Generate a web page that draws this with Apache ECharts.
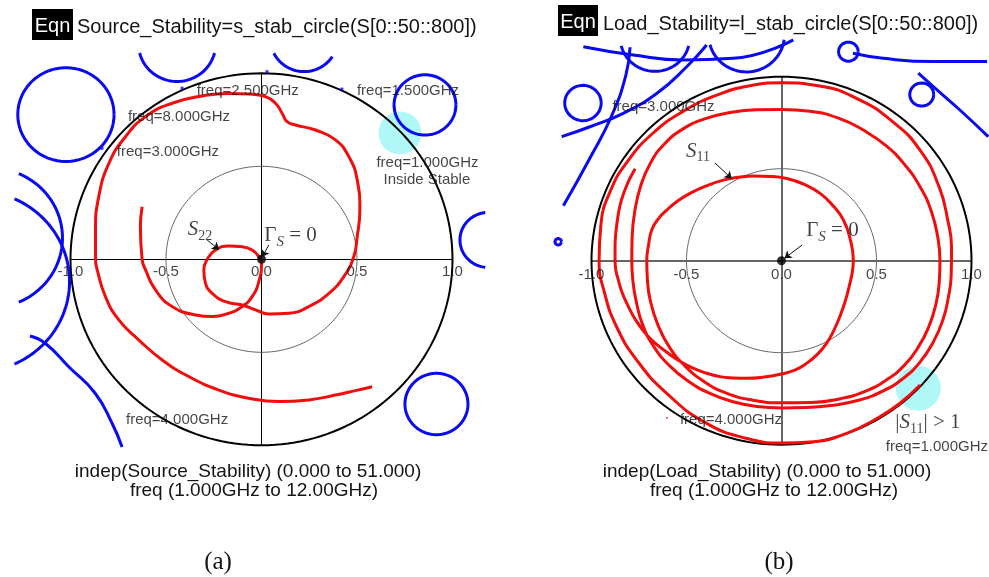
<!DOCTYPE html>
<html>
<head>
<meta charset="utf-8">
<script src="https://cdn.jsdelivr.net/npm/echarts@6/dist/echarts.min.js"></script>
<style>
  html, body { margin: 0; padding: 0; background: #ffffff; }
  #chart { width: 989px; height: 577px; }
</style>
</head>
<body>
<div id="chart"></div>
<script>
// ---- reflection-plane ticks and reference circles ----
const tickValues = [-1.0, -0.5, 0.0, 0.5, 1.0];
const tickLabels = ['-1.0', '-0.5', '0.0', '0.5', '1.0'];
const refRadii = [1.0, 0.5];

// ---- (a) S22 trace, 12 GHz end first ----
const s22Trace = [
  [-0.625, 0.283], [-0.634, 0.176], [-0.625, 0.0], [-0.607, -0.057], [-0.555, -0.165],
  [-0.468, -0.254], [-0.346, -0.299], [-0.258, -0.308], [-0.171, -0.290], [-0.101, -0.254],
  [-0.049, -0.201], [-0.014, -0.120], [0.0, -0.022], [-0.014, 0.014], [-0.049, 0.05],
  [-0.101, 0.068], [-0.171, 0.072], [-0.241, 0.05], [-0.284, 0.0], [-0.302, -0.057],
  [-0.293, -0.129], [-0.258, -0.183], [-0.188, -0.228], [-0.101, -0.246], [-0.031, -0.272],
  [0.038, -0.294], [0.143, -0.290], [0.248, -0.254], [0.353, -0.183], [0.431, -0.093],
  [0.483, 0.014], [0.501, 0.122], [0.515, 0.265], [0.501, 0.427], [0.457, 0.552],
  [0.387, 0.642], [0.283, 0.695], [0.178, 0.722], [0.134, 0.740], [0.108, 0.785],
  [0.073, 0.839], [0.021, 0.875], [-0.066, 0.889], [-0.171, 0.892], [-0.311, 0.878],
  [-0.468, 0.839], [-0.607, 0.767], [-0.712, 0.659], [-0.799, 0.516], [-0.852, 0.337],
  [-0.869, 0.158], [-0.869, 0.0], [-0.860, -0.057], [-0.817, -0.201], [-0.747, -0.326],
  [-0.642, -0.434], [-0.520, -0.541], [-0.380, -0.631], [-0.223, -0.703], [-0.066, -0.747],
  [0.091, -0.765], [0.248, -0.756], [0.387, -0.730], [0.492, -0.706], [0.579, -0.685]
];

// ---- (b) S11 trace, 1 GHz end first ----
const s11Trace = [
  [0.729, -0.676], [0.624, -0.775], [0.518, -0.848], [0.343, -0.938], [0.168, -0.984],
  [0.0, -0.991], [-0.183, -0.966], [-0.394, -0.884], [-0.604, -0.721], [-0.762, -0.54],
  [-0.868, -0.359], [-0.93, -0.18], [-0.96, 0.0], [-0.95, 0.2], [-0.9, 0.38],
  [-0.81, 0.54], [-0.68, 0.69], [-0.52, 0.81], [-0.34, 0.9], [-0.17, 0.95],
  [0.0, 0.967], [0.2, 0.95], [0.4, 0.88], [0.58, 0.76], [0.73, 0.6],
  [0.83, 0.4], [0.875, 0.22], [0.895, 0.07], [0.893, -0.08], [0.878, -0.2],
  [0.85, -0.32], [0.8, -0.44], [0.73, -0.55], [0.64, -0.64], [0.53, -0.71],
  [0.4, -0.76], [0.26, -0.787], [0.13, -0.798], [0.0, -0.80],
  [-0.13, -0.792], [-0.26, -0.765], [-0.38, -0.72], [-0.49, -0.655], [-0.59, -0.57],
  [-0.67, -0.47], [-0.73, -0.35], [-0.765, -0.22], [-0.783, -0.1], [-0.788, 0.0],
  [-0.786, 0.13], [-0.772, 0.27], [-0.74, 0.41], [-0.69, 0.53], [-0.62, 0.63],
  [-0.52, 0.715], [-0.4, 0.772], [-0.27, 0.805], [-0.13, 0.82], [0.0, 0.822],
  [0.15, 0.812], [0.3, 0.775], [0.43, 0.71], [0.55, 0.625], [0.65, 0.52],
  [0.73, 0.4], [0.788, 0.27], [0.822, 0.13], [0.834, 0.0],
  [0.83, -0.12], [0.812, -0.24], [0.775, -0.36], [0.72, -0.47], [0.645, -0.57],
  [0.55, -0.65], [0.44, -0.71], [0.31, -0.75], [0.16, -0.77], [0.0, -0.772],
  [-0.15, -0.758], [-0.29, -0.72], [-0.41, -0.655], [-0.51, -0.57], [-0.59, -0.47],
  [-0.65, -0.35], [-0.69, -0.22], [-0.706, -0.1], [-0.709, 0.0],
  [-0.699, 0.09], [-0.683, 0.167], [-0.65, 0.225], [-0.604, 0.275], [-0.55, 0.322],
  [-0.482, 0.366], [-0.4, 0.405], [-0.306, 0.438], [-0.226, 0.453], [-0.148, 0.46],
  [-0.06, 0.458], [0.027, 0.447], [0.12, 0.415], [0.203, 0.366], [0.27, 0.3],
  [0.326, 0.221], [0.362, 0.115], [0.378, 0.0],
  [0.372, -0.065], [0.36, -0.123], [0.337, -0.215], [0.307, -0.304], [0.275, -0.38],
  [0.237, -0.449], [0.19, -0.508], [0.132, -0.558], [0.07, -0.595], [0.0, -0.616],
  [-0.09, -0.632], [-0.183, -0.639], [-0.255, -0.637], [-0.324, -0.63], [-0.405, -0.608],
  [-0.482, -0.576], [-0.545, -0.54], [-0.6, -0.5], [-0.665, -0.448], [-0.72, -0.39],
  [-0.77, -0.318], [-0.81, -0.24], [-0.84, -0.17], [-0.86, -0.1], [-0.872, -0.05],
  [-0.876, 0.0], [-0.876, 0.075], [-0.872, 0.15], [-0.863, 0.225], [-0.85, 0.3],
  [-0.832, 0.362], [-0.81, 0.42], [-0.79, 0.463], [-0.77, 0.5]
];

// ---- stability circles: [centreX, centreY, radius, fromDeg, toDeg] ----
const sourceCircles = [
  [-1.024, 0.778, 0.252, 0, 360],
  [-0.442, 1.158, 0.202, 194, 346],
  [0.223, 1.185, 0.176, 206, 327],
  [0.856, 0.830, 0.162, 0, 360],
  [1.187, 0.104, 0.148, 96, 264],
  [0.916, -0.778, 0.165, 0, 360],
  [-1.417, 0.115, 0.375, -67, 67],
  [-1.491, -0.119, 0.486, -66, 66]
];
// large-radius circle portions, traced point by point
const sourceArcPaths = [
  [[-1.212, -0.412], [-1.134, -0.450], [-1.008, -0.579], [-0.872, -0.719], [-0.783, -0.880], [-0.730, -1.009]]
];
const loadCircles = [
  [-0.666, 1.212, 0.183, 194, 346],
  [-0.184, 1.225, 0.199, 195, 353],
  [-1.045, 0.857, 0.096, 0, 360],
  [-1.175, 0.103, 0.018, 0, 360],
  [0.352, 1.136, 0.052, 0, 360],
  [0.738, 0.903, 0.063, 0, 360]
];
const loadArcPaths = [
  [[-1.043, 1.163], [-0.780, 1.118], [-0.517, 1.091], [-0.254, 1.100], [0.062, 1.200]],
  [[-1.157, 0.674], [-1.008, 0.728], [-0.833, 0.801], [-0.657, 0.909], [-0.499, 1.054], [-0.394, 1.172]],
  [[-1.148, 0.298], [-1.008, 0.558], [-0.892, 0.792], [-0.819, 1.009], [-0.797, 1.160]],
  [[0.376, 1.127], [0.534, 1.100], [0.797, 1.082], [1.082, 1.082]],
  [[0.72, 1.019], [0.799, 0.946], [0.939, 0.819], [1.088, 0.674]]
];

// ---- frequency markers and notes ----
const sourceNotes = [
  ['freq=2.500GHz', -0.072, 0.906],
  ['freq=1.500GHz', 0.767, 0.906],
  ['freq=8.000GHz', -0.432, 0.767],
  ['freq=3.000GHz', -0.490, 0.578],
  ['freq=1.000GHz', 0.869, 0.519],
  ['Inside Stable', 0.866, 0.426],
  ['freq=4.000GHz', -0.442, -0.864]
];
const sourceMarkerPts = [[-0.416, 0.920], [0.421, 0.915], [-0.835, 0.597], [0.029, 1.009]];
const loadNotes = [
  ['freq=3.000GHz', -0.621, 0.837],
  ['freq=4.000GHz', -0.266, -0.866],
  ['freq=1.000GHz', 0.818, -1.014]
];
const sourceHighlight = [0.725, 0.679];
const loadHighlight = [0.72, -0.693];

// ---------------------------------------------------------------------
const SANS = '"Liberation Sans", Arial, sans-serif';
const SERIF = '"Liberation Serif", "Times New Roman", serif';
const RED = '#f00d0d';
const BLUE = '#0a0af0';

function arcPoints(cx, cy, r, a0, a1) {
  const pts = [];
  const n = Math.max(16, Math.ceil(Math.abs(a1 - a0) / 2));
  for (let i = 0; i <= n; i++) {
    const t = (a0 + (a1 - a0) * i / n) * Math.PI / 180;
    pts.push([cx + r * Math.cos(t), cy + r * Math.sin(t)]);
  }
  return pts;
}

function curve(idx, data, color, width, smooth, z) {
  return {
    type: 'line', xAxisIndex: idx, yAxisIndex: idx, data: data,
    showSymbol: false, symbol: 'none', smooth: smooth, clip: false, silent: true, z: z,
    lineStyle: { color: color, width: width }
  };
}

function textLayer(idx, items, fontSize) {
  return {
    type: 'scatter', xAxisIndex: idx, yAxisIndex: idx, symbolSize: 1, silent: true, z: 10,
    itemStyle: { color: 'rgba(0,0,0,0)' },
    data: items.map(d => ({ name: d[0], value: [d[1], d[2]] })),
    label: { show: true, position: 'inside', formatter: p => p.name, color: '#141414',
             fontSize: fontSize, fontFamily: SANS }
  };
}

const subRich = {
  i: { fontFamily: SERIF, fontStyle: 'italic', fontSize: 21, color: '#111', verticalAlign: 'top', lineHeight: 22 },
  g: { fontFamily: SERIF, fontSize: 21, color: '#111', verticalAlign: 'top', lineHeight: 22 },
  s: { fontFamily: SERIF, fontSize: 14, color: '#111', verticalAlign: 'top', padding: [10, 0, 0, 0] },
  si: { fontFamily: SERIF, fontStyle: 'italic', fontSize: 15, color: '#111', verticalAlign: 'top', padding: [9, 0, 0, 0] }
};

function richNote(idx, text, x, y) {
  return {
    type: 'scatter', xAxisIndex: idx, yAxisIndex: idx, symbolSize: 1, silent: true, z: 10,
    itemStyle: { color: 'rgba(0,0,0,0)' },
    data: [{ value: [x, y] }],
    label: { show: true, position: 'inside', formatter: text, rich: subRich }
  };
}

function buildPanel(idx, cfg) {
  const S = [];
  // highlighted region
  S.push({
    type: 'scatter', xAxisIndex: idx, yAxisIndex: idx, z: 1, silent: true,
    symbolSize: cfg.hiSize, itemStyle: { color: '#9cf5f5' }, data: [cfg.highlight]
  });
  // |Gamma| = 1 and 0.5 circles
  refRadii.forEach((r, i) => {
    S.push(curve(idx, arcPoints(0, 0, r, 0, 360), i === 0 ? '#000' : '#666', i === 0 ? 2 : 1, false, 4));
  });
  // real / imaginary axes
  S.push({
    type: 'lines', coordinateSystem: 'cartesian2d', xAxisIndex: idx, yAxisIndex: idx, z: 4, silent: true,
    data: [{ coords: [[-1, 0], [1, 0]] }, { coords: [[0, -1], [0, 1]] }],
    lineStyle: { color: cfg.axisColor, width: cfg.axisWidth, opacity: 1 }
  });
  // tick labels
  S.push({
    type: 'scatter', xAxisIndex: idx, yAxisIndex: idx, symbolSize: 1, silent: true, z: 9,
    itemStyle: { color: 'rgba(0,0,0,0)' },
    data: tickValues.map((v, i) => ({ name: tickLabels[i], value: [v, 0] })),
    label: { show: true, position: 'inside', offset: [0, cfg.tickOffset], formatter: p => p.name,
             color: '#141414', fontSize: 15, fontFamily: SANS }
  });
  // stability circles
  cfg.circles.forEach(c => S.push(curve(idx, arcPoints(c[0], c[1], c[2], c[3], c[4]), BLUE, 3, false, 5)));
  cfg.arcs.forEach(p => S.push(curve(idx, p, BLUE, 3, 0.5, 5)));
  // measured trace
  S.push(curve(idx, cfg.trace, RED, 3, 0.5, 6));
  // origin marker
  S.push({
    type: 'scatter', xAxisIndex: idx, yAxisIndex: idx, z: 8, silent: true,
    symbolSize: 9, itemStyle: { color: '#000' }, data: [[0, 0]]
  });
  // pointer arrows
  S.push({
    type: 'lines', coordinateSystem: 'cartesian2d', xAxisIndex: idx, yAxisIndex: idx, z: 8, silent: true,
    symbol: ['none', 'arrow'], symbolSize: 7,
    data: cfg.arrows.map(a => ({ coords: a })),
    lineStyle: { color: '#111', width: 1, opacity: 1 }
  });
  // frequency notes
  S.push(textLayer(idx, cfg.notes, 15));
  return S;
}

const series = []
  .concat(buildPanel(0, {
    highlight: sourceHighlight, hiSize: 43, axisColor: '#000', axisWidth: 1, tickOffset: 13,
    circles: sourceCircles, arcs: sourceArcPaths, trace: s22Trace,
    arrows: [[[-0.285, 0.104], [-0.222, 0.052]], [[0.038, 0.077], [0.004, 0.012]]],
    notes: sourceNotes
  }))
  .concat(buildPanel(1, {
    highlight: loadHighlight, hiSize: 45, axisColor: '#333', axisWidth: 1.5, tickOffset: 14,
    circles: loadCircles, arcs: loadArcPaths, trace: s11Trace,
    arrows: [[[-0.35, 0.531], [-0.262, 0.446]], [[0.108, 0.085], [0.016, 0.013]]],
    notes: loadNotes
  }));

// panel-specific annotations
series.push(richNote(0, '{i|S}{s|22}', -0.322, 0.150));
series.push(richNote(0, '{g|Γ}{si|S}{g| = 0}', 0.152, 0.118));
series.push(richNote(1, '{i|S}{s|11}', -0.439, 0.588));
series.push(richNote(1, '{g|Γ}{si|S}{g| = 0}', 0.268, 0.154));
series.push(richNote(1, '{g||}{i|S}{s|11}{g||}{g| > 1}', 0.771, -0.89));
series.push({
  type: 'scatter', xAxisIndex: 0, yAxisIndex: 0, z: 7, silent: true,
  symbol: 'rect', symbolSize: 3, itemStyle: { color: BLUE }, data: sourceMarkerPts
});
series.push({
  type: 'scatter', xAxisIndex: 1, yAxisIndex: 1, z: 7, silent: true,
  symbolSize: 2, itemStyle: { color: RED }, data: [[-0.603, -0.855]]
});

function caption(x, y, text, size, family, align, fill) {
  return {
    type: 'text', x: x, y: y, silent: true, z: 20,
    style: { text: text, fill: fill || '#141414', fontSize: size, fontFamily: family,
             align: align || 'center', verticalAlign: 'middle',
             textAlign: align || 'center', textVerticalAlign: 'middle' }
  };
}

const option = {
  animation: false,
  backgroundColor: '#ffffff',
  grid: [
    { left: 1.74, top: 17.5, width: 496.6, height: 465 },
    { left: 544, top: 21.5, width: 444.6, height: 460 }
  ],
  xAxis: [
    { type: 'value', gridIndex: 0, min: -1.36, max: 1.24, show: false },
    { type: 'value', gridIndex: 1, min: -1.25, max: 1.09, show: false }
  ],
  yAxis: [
    { type: 'value', gridIndex: 0, min: -1.2, max: 1.3, show: false },
    { type: 'value', gridIndex: 1, min: -1.2, max: 1.3, show: false }
  ],
  series: series,
  graphic: [
    { type: 'rect', z: 19, shape: { x: 32, y: 9, width: 41, height: 31 }, style: { fill: '#000' }, silent: true },
    caption(52.5, 26, 'Eqn', 20, SANS, 'center', '#ffffff'),
    caption(77, 27, 'Source_Stability=s_stab_circle(S[0::50::800])', 20, SANS, 'left'),
    { type: 'rect', z: 19, shape: { x: 558, y: 5, width: 40, height: 31 }, style: { fill: '#000' }, silent: true },
    caption(578, 22, 'Eqn', 20, SANS, 'center', '#ffffff'),
    caption(603, 24, 'Load_Stability=l_stab_circle(S[0::50::800])', 20, SANS, 'left'),
    caption(248, 472, 'indep(Source_Stability) (0.000 to 51.000)', 19, SANS),
    caption(254, 491, 'freq (1.000GHz to 12.00GHz)', 19, SANS),
    caption(767, 472, 'indep(Load_Stability) (0.000 to 51.000)', 19, SANS),
    caption(774, 491, 'freq (1.000GHz to 12.00GHz)', 19, SANS),
    caption(218, 562, '(a)', 25, SERIF),
    caption(779, 562, '(b)', 25, SERIF)
  ]
};

const chart = echarts.init(document.getElementById('chart'));
chart.setOption(option);
</script>
</body>
</html>
